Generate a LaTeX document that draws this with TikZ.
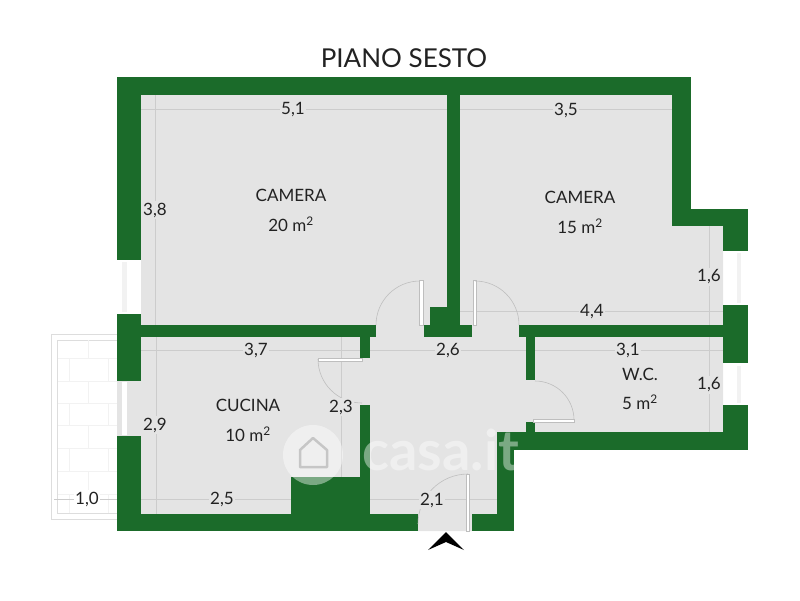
\documentclass[tikz,border=0pt]{standalone}
\usepackage{fontspec}
\setmainfont{Lato}
\usetikzlibrary{shapes}
\definecolor{wallgreen}{HTML}{1B6B2A}
\definecolor{floorgray}{HTML}{E4E4E4}
\definecolor{dimgray}{HTML}{CCCCCC}
\definecolor{doorgray}{HTML}{BEBEBE}
\definecolor{tilegray}{HTML}{F2F2F2}
\definecolor{railgray}{HTML}{DDDDDD}
\definecolor{inkblack}{HTML}{222222}
\tikzset{
    wall/.style={fill=wallgreen},
    floor/.style={fill=floorgray},
    dimline/.style={draw=dimgray,line width=0.6pt},
    dimlabel/.style={text=inkblack,font=\fontsize{17}{17}\selectfont,fill=floorgray,inner sep=1.5pt},
    roomlabel/.style={text=inkblack,font=\fontsize{17}{17}\selectfont,inner sep=0pt},
    leaf/.style={draw=doorgray,fill=white,line width=0.4pt},
    swing/.style={draw=doorgray,line width=0.6pt},
    tile/.style={draw=tilegray,line width=0.7pt},
    rail/.style={draw=railgray,line width=1pt},
}
\begin{document}
\begin{tikzpicture}[x=1pt,y=-1pt]
    \useasboundingbox (0,0) rectangle (800,600);

    \draw[rail] (117,334) -- (51,334) -- (51,519) -- (117,519);
    \draw[rail] (117,340) -- (57,340) -- (57,513) -- (117,513);
    \foreach \y in {358,381,403,425,448,471,494} {
        \draw[tile] (58,\y) -- (117,\y);
    }
    \foreach \ya/\yb in {340/358,381/403,425/448,471/494} {
        \draw[tile] (88,\ya) -- (88,\yb);
    }
    \foreach \ya/\yb in {358/381,403/425,448/471,494/513} {
        \draw[tile] (69,\ya) -- (69,\yb);
        \draw[tile] (108,\ya) -- (108,\yb);
    }

    \fill[floor] (141,95) -- (672,95) -- (672,226) -- (723,226) -- (723,432) -- (497,432) -- (497,514)
        -- (472,514) -- (472,531) -- (418,531) -- (418,514) -- (141,514) -- cycle;
    \fill[floor] (117,381) rectangle (141,436);
    \fill[white] (122,382) rectangle (127,435);
    \fill[tilegray] (122,262) rectangle (127,312);
    \fill[tilegray] (737,253) rectangle (741,303);
    \fill[tilegray] (737,366) rectangle (741,403);

    \draw[dimline] (141,109) -- (447,109);
    \draw[dimline] (460,109) -- (672,109);
    \draw[dimline] (155,95) -- (155,325);
    \draw[dimline] (141,350) -- (360,350);
    \draw[dimline] (156,337) -- (156,514);
    \draw[dimline] (141,499) -- (291,499);
    \draw[dimline] (54,499) -- (117,499);
    \draw[dimline] (370,350) -- (526,350);
    \draw[dimline] (341,337) -- (341,477);
    \draw[dimline] (370,499) -- (497,499);
    \draw[dimline] (460,311) -- (723,311);
    \draw[dimline] (535,350) -- (723,350);
    \draw[dimline] (709,226) -- (709,325);
    \draw[dimline] (709,337) -- (709,432);

    \foreach \xa/\ya/\xb/\yb in {
        117/77/691/95, 117/95/141/260, 117/314/141/381, 117/436/141/531,
        141/514/418/531, 291/477/370/514, 360/405/370/477, 360/337/370/358,
        141/325/376/337, 447/95/460/325, 430/307/447/325, 424/325/472/337,
        519/325/723/337, 526/337/535/380, 526/422/535/432, 672/95/691/226,
        672/209/748/226, 723/226/748/251, 723/305/748/363, 723/405/748/450,
        497/432/723/450, 497/450/514/531, 472/514/497/531} {
        \fill[wall] (\xa,\ya) rectangle (\xb,\yb);
    }

    \draw[leaf] (419.5,280) rectangle (423,325);
    \draw[leaf] (473,280) rectangle (476.5,325);
    \draw[leaf] (318,358) rectangle (362,361);
    \draw[leaf] (533,419) rectangle (574,422);
    \draw[leaf] (466,474) rectangle (469.5,531);
    \draw[swing] (420,281) arc[start angle=270,end angle=180,radius=44];
    \draw[swing] (475,281) arc[start angle=270,end angle=360,radius=44];
    \draw[swing] (318,359) arc[start angle=180,end angle=90,radius=44];
    \draw[swing] (574,420) arc[start angle=0,end angle=-90,radius=39];
    \draw[swing] (468,474) arc[start angle=270,end angle=180,radius=50];

    \fill[black] (446,532) -- (464,550) -- (446,542) -- (428,550) -- cycle;

    \node[text=inkblack,font=\fontsize{26}{26}\selectfont,inner sep=0pt] (title) at (404,58) {PIANO SESTO};

    \node[roomlabel] (cameraA) at (291,195) {CAMERA};
    \node[roomlabel] (areaA) at (291,224) {20 m\textsuperscript{2}};
    \node[roomlabel] (cameraB) at (580,197) {CAMERA};
    \node[roomlabel] (areaB) at (580,226) {15 m\textsuperscript{2}};
    \node[roomlabel] (cucina) at (248,405) {CUCINA};
    \node[roomlabel] (areaC) at (248,434) {10 m\textsuperscript{2}};
    \node[roomlabel] (wc) at (640,374) {W.C.};
    \node[roomlabel] (areaD) at (640,402) {5 m\textsuperscript{2}};

    \node[dimlabel] (dimA) at (293,110) {5,1};
    \node[dimlabel] (dimB) at (566,110) {3,5};
    \node[dimlabel] (dimC) at (155,210) {3,8};
    \node[dimlabel] (dimD) at (256,350) {3,7};
    \node[dimlabel] (dimE) at (155,425) {2,9};
    \node[dimlabel] (dimF) at (222,499) {2,5};
    \node[dimlabel,fill=white] (dimG) at (87,499) {1,0};
    \node[dimlabel] (dimH) at (448,350) {2,6};
    \node[dimlabel] (dimI) at (341,407) {2,3};
    \node[dimlabel] (dimJ) at (432,500) {2,1};
    \node[dimlabel] (dimK) at (709,277) {1,6};
    \node[dimlabel] (dimL) at (592,312) {4,4};
    \node[dimlabel] (dimM) at (628,350) {3,1};
    \node[dimlabel] (dimN) at (709,385) {1,6};

    \fill[white,opacity=0.42] (313,455) circle (30);
    \draw[draw=floorgray!80!black,line width=2.5pt,opacity=0.7,line join=round] (300,450) -- (313,438) -- (327,450) -- (327,467) -- (300,467) -- cycle;
    \node[text=white,opacity=0.42,font=\bfseries\fontsize{56}{56}\selectfont,inner sep=0pt,anchor=base west] (mark) at (362,470) {casa.it};
\end{tikzpicture}
\end{document}
